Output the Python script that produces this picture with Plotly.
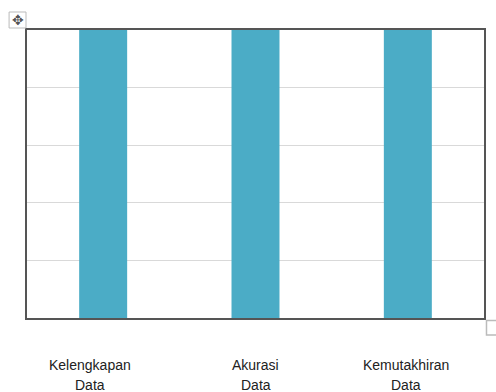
import plotly.graph_objects as go

categories = ["Kelengkapan Data", "Akurasi Data", "Kemutakhiran Data"]
tick_line1 = ["Kelengkapan", "Akurasi", "Kemutakhiran"]
tick_line2 = ["Data", "Data", "Data"]
values = [5, 5, 5]
label_shift = [-13, 0, -2]

W, H = 496, 392
L, R, T, B = 27, 10, 30, 74
ph = H - T - B

fig = go.Figure(go.Bar(x=categories, y=values, marker=dict(color="#4bacc6", line=dict(width=0)),
                       width=0.315))

anns = []
for c, l1, l2, s in zip(categories, tick_line1, tick_line2, label_shift):
    for txt, py in ((l1, 365), (l2, 385)):
        anns.append(dict(x=c, xref="x", y=-(py - (H - B)) / ph, yref="paper", text=txt,
                         showarrow=False, xanchor="center", yanchor="middle", xshift=s,
                         font=dict(family="Liberation Sans", size=14, color="#222222")))

pw = W - L - R
def px_x(x):
    return (x - L) / pw
def px_y(y):
    return (H - B - y) / ph

# move handle icon
anns.append(dict(x=px_x(17.5), xref="paper", y=px_y(20), yref="paper",
                 text="✥", showarrow=False, xanchor="center", yanchor="middle",
                 font=dict(family="DejaVu Sans", size=14, color="#555555")))
fig.update_layout(annotations=anns)

fig.add_shape(type="rect", xref="paper", yref="paper", x0=px_x(9), x1=px_x(26), y0=px_y(28), y1=px_y(12),
              line=dict(color="#bbbbbb", width=1), fillcolor="white", layer="above")
fig.add_shape(type="rect", xref="paper", yref="paper", x0=px_x(488.5), x1=px_x(500), y0=px_y(335), y1=px_y(320.5),
              line=dict(color="#bbbbbb", width=1.5), fillcolor="white", layer="above")

fig.update_layout(
    width=W, height=H, margin=dict(l=L, r=R, t=T, b=B),
    paper_bgcolor="white", plot_bgcolor="white", showlegend=False,
    xaxis=dict(range=[-0.5, 2.5], showticklabels=False, showgrid=False, ticks="",
               showline=True, linecolor="#555555", linewidth=2, mirror=True, zeroline=False),
    yaxis=dict(range=[0, 5], dtick=1, showticklabels=False, showgrid=True, gridcolor="#d9d9d9",
               gridwidth=1, ticks="", showline=True, linecolor="#555555", linewidth=2, mirror=True,
               zeroline=False),
)
fig.write_html("out.html")
